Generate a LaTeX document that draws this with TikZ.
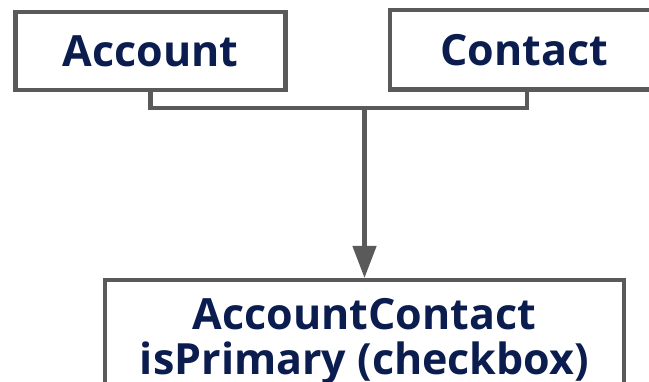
\documentclass[tikz,border=0pt]{standalone}
\usepackage{fontspec}
\setmainfont{Open Sans}
\usepackage{tikz}
\usetikzlibrary{arrows.meta,positioning}
\definecolor{boxgray}{HTML}{5A5A5A}
\definecolor{labelnavy}{HTML}{0B1D4E}

\begin{document}
\begin{tikzpicture}[x=1pt, y=-1pt,
    entity/.style={draw=boxgray, line width=4.5pt, fill=white, text=labelnavy,
        font=\fontsize{43}{45}\selectfont\bfseries, inner sep=0pt},
    link/.style={draw=boxgray, line width=4.5pt}]
    \useasboundingbox (0,0) rectangle (649,382);
    \node[entity, minimum width=270pt, minimum height=78pt] (account) at (150.5,51) {Account};
    \node[entity, minimum width=268pt, minimum height=79.5pt] (contact) at (524,49.75) {Contact};
    \node[entity, anchor=north, minimum width=519pt, align=center, inner ysep=18.5pt] (acctcontact) at (364.5,278) {AccountContact\\isPrimary (checkbox)};
    \coordinate (join) at (364.5,108);

    \draw[link] (account.south) |- (join) -| ([xshift=3pt]contact.south);
    \draw[link, -{Triangle[length=32pt, width=23pt]}] (join) -- (acctcontact.north);
\end{tikzpicture}
\end{document}
